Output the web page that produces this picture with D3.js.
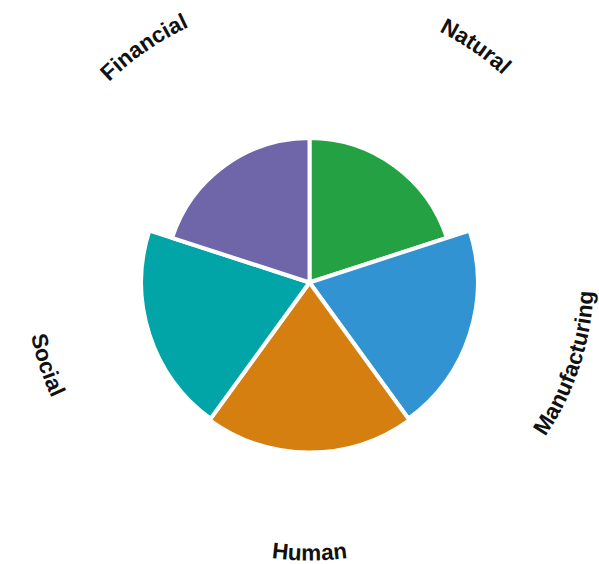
<!DOCTYPE html>
<html>
<head>
<meta charset="utf-8">
<script src="https://cdn.jsdelivr.net/npm/d3@7"></script>
<style>
  html, body { margin: 0; padding: 0; background: #ffffff; }
  svg { display: block; }
</style>
</head>
<body>
<svg id="chart" width="599" height="564"></svg>
<script>
const categories = ["Natural", "Manufacturing", "Human", "Social", "Financial"];
const values = [17, 19.8, 20, 19.8, 17];
const palette = ["#23a143", "#3193d2", "#d57f10", "#01a5a7", "#6f66a9"];

const W = 599, H = 564;
const cx = 309.5, cy = 282.5;
const svg = d3.select("#chart");
const g = svg.append("g").attr("transform", `translate(${cx},${cy})`);

const angle = d3.scaleBand().domain(categories).range([0, 2 * Math.PI]).padding(0);
const radius = d3.scaleLinear().domain([0, 20]).range([0, 170]);
const color = d3.scaleOrdinal().domain(categories).range(palette);

const data = categories.map((c, i) => ({ cat: c, value: values[i] }));

const arc = d3.arc()
  .innerRadius(0)
  .outerRadius(d => radius(d.value))
  .startAngle(d => angle(d.cat))
  .endAngle(d => angle(d.cat) + angle.bandwidth());

g.selectAll("path.slice")
  .data(data)
  .join("path")
  .attr("class", "slice")
  .attr("d", arc)
  .attr("fill", d => color(d.cat))
  .attr("stroke", "#ffffff")
  .attr("stroke-width", 4)
  .attr("stroke-linejoin", "round");

// Curved labels along a slightly elliptical ring around the chart
const lcx = 309.5, lcy = 280.5, rx = 284, ry = 280;
const topNudge = 0.9 * Math.PI / 180;
const pt = a => [rx * Math.sin(a), -ry * Math.cos(a)];
const defs = svg.append("defs");
data.forEach((d, i) => {
  const a0 = angle(d.cat), a1 = a0 + angle.bandwidth();
  let mid = (a0 + a1) / 2;
  const bottom = mid > Math.PI / 2 && mid < 3 * Math.PI / 2;
  if (!bottom) mid += (mid < Math.PI ? -topNudge : topNudge);
  const half = angle.bandwidth() / 2;
  const [sa, ea, sweep] = bottom ? [mid + half, mid - half, 0] : [mid - half, mid + half, 1];
  const p0 = pt(sa), p1 = pt(ea);
  const dStr = `M${p0[0]},${p0[1]} A${rx},${ry} 0 0 ${sweep} ${p1[0]},${p1[1]}`;
  defs.append("path").attr("id", "lp" + i).attr("d", dStr);
});

svg.selectAll("text.lbl")
  .data(data)
  .join("text")
  .attr("class", "lbl")
  .attr("transform", `translate(${lcx},${lcy})`)
  .style("font-family", "'Liberation Sans', Arial, sans-serif")
  .style("font-weight", "bold")
  .style("font-size", "22.5px")
  .attr("fill", "#111111")
  .append("textPath")
  .attr("href", (d, i) => "#lp" + i)
  .attr("startOffset", "50%")
  .attr("text-anchor", "middle")
  .text(d => d.cat);
</script>
</body>
</html>
